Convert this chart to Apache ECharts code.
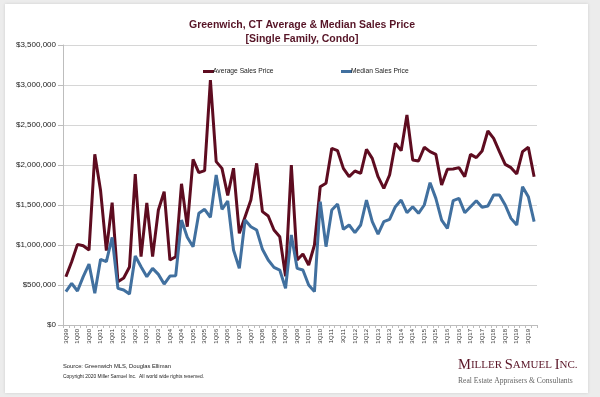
<!DOCTYPE html>
<html>
<head>
<meta charset="utf-8">
<script src="https://cdn.jsdelivr.net/npm/echarts@6/dist/echarts.min.js"></script>
<style>
html,body{margin:0;padding:0;background:#ececec;}
#chart{width:600px;height:397px;}
</style>
</head>
<body>
<div id="chart"></div>
<script>
var quarters = ['3Q99','4Q99',
'1Q00','2Q00','3Q00','4Q00','1Q01','2Q01','3Q01','4Q01','1Q02','2Q02','3Q02','4Q02',
'1Q03','2Q03','3Q03','4Q03','1Q04','2Q04','3Q04','4Q04','1Q05','2Q05','3Q05','4Q05',
'1Q06','2Q06','3Q06','4Q06','1Q07','2Q07','3Q07','4Q07','1Q08','2Q08','3Q08','4Q08',
'1Q09','2Q09','3Q09','4Q09','1Q10','2Q10','3Q10','4Q10','1Q11','2Q11','3Q11','4Q11',
'1Q12','2Q12','3Q12','4Q12','1Q13','2Q13','3Q13','4Q13','1Q14','2Q14','3Q14','4Q14',
'1Q15','2Q15','3Q15','4Q15','1Q16','2Q16','3Q16','4Q16','1Q17','2Q17','3Q17','4Q17',
'1Q18','2Q18','3Q18','4Q18','1Q19','2Q19','3Q19','4Q19'];

var averagePrice = [604000,791000,1008000,991000,937000,2134000,1680000,930000,1529000,541000,
587000,725000,1887000,854000,1525000,854000,1437000,1666000,812000,854000,
1765000,1229000,2071000,1904000,1929000,3062000,2042000,1958000,1620000,1960000,
1146000,1354000,1562000,2021000,1417000,1362000,1187000,1104000,610000,2000000,
812000,887000,750000,1000000,1729000,1771000,2208000,2179000,1958000,1854000,
1925000,1896000,2196000,2083000,1854000,1708000,1875000,2271000,2179000,2625000,
2063000,2050000,2221000,2167000,2133000,1750000,1946000,1950000,1967000,1854000,
2133000,2092000,2175000,2425000,2333000,2167000,2008000,1967000,1888000,2167000,
2221000,1854000];

var medianPrice = [417000,521000,425000,604000,762000,396000,821000,792000,1096000,458000,
437000,387000,862000,729000,604000,708000,633000,512000,612000,617000,
1312000,1096000,979000,1396000,1446000,1346000,1875000,1446000,1550000,937000,
708000,1312000,1229000,1187000,946000,812000,721000,687000,458000,1125000,
708000,687000,500000,417000,1542000,979000,1437000,1512000,1196000,1250000,
1154000,1250000,1562000,1292000,1137000,1292000,1321000,1479000,1562000,1404000,
1479000,1396000,1500000,1779000,1583000,1312000,1208000,1554000,1583000,1404000,
1479000,1554000,1471000,1487000,1625000,1625000,1500000,1333000,1250000,1729000,
1604000,1292000];

var seriesNames = ['Average Sales Price','Median Sales Price'];
var yTicks = {min:0, max:3500000, interval:500000};

var chart = echarts.init(document.getElementById('chart'));
var font = '"Liberation Sans", Arial, sans-serif';
var serif = '"Liberation Serif", "Times New Roman", serif';

chart.setOption({
  animation:false,
  backgroundColor:'#ececec',
  title:{
    text:'Greenwich, CT Average & Median Sales Price\n[Single Family, Condo]',
    left:297, textAlign:'center', top:13,
    textStyle:{fontFamily:font, fontSize:10.5, fontWeight:'bold', color:'#561426', lineHeight:14}
  },
  legend:[
    {data:[seriesNames[0]], left:198, top:63, icon:'rect', itemWidth:11, itemHeight:3,
     textStyle:{fontFamily:font, fontSize:6.7, color:'#222', padding:[0,0,0,-6]}},
    {data:[seriesNames[1]], left:336, top:63, icon:'rect', itemWidth:11, itemHeight:3,
     textStyle:{fontFamily:font, fontSize:6.7, color:'#222', padding:[0,0,0,-6]}}
  ],
  grid:{left:63, right:63, top:45, bottom:72, containLabel:false},
  xAxis:{
    type:'category', data:quarters, boundaryGap:true,
    axisLine:{lineStyle:{color:'#bdbdbd', width:1}},
    axisTick:{show:true, interval:0, length:3, lineStyle:{color:'#bdbdbd'}},
    axisLabel:{interval:1, rotate:90, fontSize:6, color:'#333', fontFamily:font, margin:4}
  },
  yAxis:{
    type:'value', min:yTicks.min, max:yTicks.max, interval:yTicks.interval,
    axisLine:{show:true, lineStyle:{color:'#bdbdbd'}},
    axisTick:{show:true, length:5, lineStyle:{color:'#bdbdbd'}},
    splitLine:{lineStyle:{color:'#d6d6d6'}},
    axisLabel:{fontSize:8, color:'#222', fontFamily:font, margin:7,
      formatter:function(v){return '$' + v.toLocaleString('en-US');}}
  },
  series:[
    {name:seriesNames[0], type:'line', data:averagePrice, symbol:'none',
     lineStyle:{width:3, color:'#5e0c20'}, itemStyle:{color:'#5e0c20'}},
    {name:seriesNames[1], type:'line', data:medianPrice, symbol:'none',
     lineStyle:{width:3, color:'#41709f'}, itemStyle:{color:'#41709f'}}
  ],
  graphic:[
    {type:'rect', z:-10, silent:true, shape:{x:5, y:4, width:583, height:389},
     style:{fill:'#ffffff', shadowBlur:3, shadowColor:'rgba(0,0,0,0.12)'}},
    {type:'text', left:63, top:363, style:{text:'Source: Greenwich MLS, Douglas Elliman',
      font:'5.8px ' + font, fill:'#222'}},
    {type:'text', left:63, top:374, style:{text:'Copyright 2020 Miller Samuel Inc.  All world wide rights reserved.',
      font:'4.9px ' + font, fill:'#222'}},
    {type:'text', left:458, top:358, style:{
      text:'{b|M}{s|ILLER }{b|S}{s|AMUEL }{b|I}{s|NC.}',
      rich:{
        b:{fontFamily:serif, fontSize:14.5, fill:'#5a1628', color:'#5a1628'},
        s:{fontFamily:serif, fontSize:11, fill:'#5a1628', color:'#5a1628'}
      }}},
    {type:'text', left:458, top:377, style:{text:'Real Estate Appraisers & Consultants',
      font:'7.6px ' + serif, fill:'#666'}}
  ]
});
</script>
</body>
</html>
